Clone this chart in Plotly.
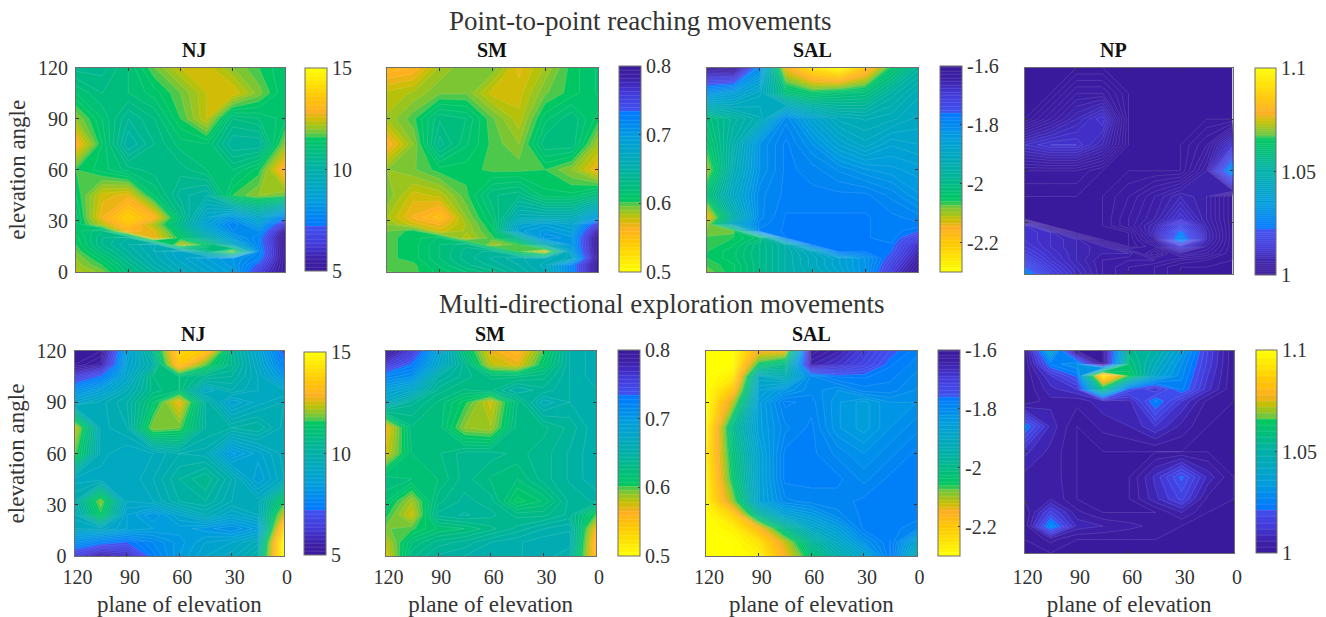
import plotly.graph_objects as go

plane = [120, 105, 90, 75, 60, 45, 30, 15, 0]
elev_top = [120, 105, 90, 75, 60, 45, 32, 28, 24, 20, 16, 12, 8, 4, 0]
elev_bot = [120, 112, 105, 97, 90, 75, 60, 45, 32, 24, 16, 8, 0]
ticks = [0, 30, 60, 90, 120]

nj_top = [
 [10.5,10.5,11.0,11.8,12.4,12.5,12.0,11.6,11.2],
 [11.2,10.8,11.0,11.3,11.8,12.4,12.6,11.9,11.2],
 [12.0,11.2,10.4,10.8,11.6,12.4,10.8,11.0,11.3],
 [13.0,11.4,10.0,10.6,11.1,11.2,10.2,10.2,12.0],
 [11.6,11.3,10.9,10.7,10.7,11.0,11.0,11.5,13.2],
 [11.4,12.5,12.7,11.2,10.3,10.0,11.6,12.0,11.8],
 [11.1,12.8,13.8,13.0,10.8,9.0,8.2,9.2,7.6],
 [11.2,12.3,13.4,12.2,10.6,8.7,7.6,8.6,6.4],
 [11.3,10.8,13.0,12.6,11.0,9.3,7.8,8.0,5.4],
 [11.5,10.6,10.2,12.8,11.4,10.0,8.4,7.6,5.0],
 [11.6,10.6,10.0,9.5,12.4,11.4,9.4,7.6,5.0],
 [11.8,10.9,10.2,9.6,9.0,10.5,12.2,7.8,5.0],
 [12.0,11.3,10.4,9.7,9.1,8.6,8.2,7.6,5.0],
 [12.1,11.6,10.7,9.9,9.3,8.8,8.3,7.0,5.0],
 [12.3,11.9,10.9,10.2,9.5,9.0,8.5,6.5,5.0],
]
sm_top = [
 [.555,.56,.585,.595,.595,.57,.585,.605,.615],
 [.58,.585,.595,.595,.575,.575,.595,.605,.615],
 [.585,.60,.625,.62,.597,.58,.612,.625,.605],
 [.56,.59,.635,.615,.60,.59,.625,.625,.585],
 [.59,.595,.605,.605,.60,.60,.602,.59,.565],
 [.595,.575,.58,.60,.625,.63,.61,.61,.625],
 [.585,.565,.55,.59,.615,.66,.66,.66,.70],
 [.59,.575,.565,.585,.61,.68,.69,.68,.75],
 [.595,.605,.575,.585,.605,.69,.70,.69,.78],
 [.60,.605,.615,.58,.60,.64,.71,.70,.80],
 [.60,.605,.62,.63,.585,.60,.66,.70,.80],
 [.60,.605,.62,.635,.64,.60,.57,.69,.80],
 [.60,.605,.62,.635,.645,.655,.66,.67,.80],
 [.60,.60,.615,.63,.64,.65,.665,.72,.80],
 [.595,.60,.61,.62,.63,.645,.66,.72,.80],
]
sal_top = [
 [-1.62,-1.60,-1.80,-2.15,-2.25,-2.30,-2.20,-2.05,-1.97],
 [-1.82,-1.85,-1.90,-2.02,-2.05,-2.03,-2.02,-1.96,-1.92],
 [-2.02,-1.97,-1.93,-1.80,-1.87,-1.92,-1.93,-1.92,-1.90],
 [-2.05,-1.95,-1.82,-1.78,-1.82,-1.87,-1.90,-1.87,-1.88],
 [-2.10,-1.93,-1.82,-1.78,-1.79,-1.81,-1.83,-1.84,-1.85],
 [-2.03,-1.90,-1.80,-1.78,-1.78,-1.78,-1.78,-1.80,-1.83],
 [-2.15,-1.95,-1.80,-1.77,-1.77,-1.77,-1.77,-1.78,-1.79],
 [-2.10,-1.90,-1.79,-1.77,-1.77,-1.77,-1.77,-1.78,-1.78],
 [-2.08,-2.08,-1.78,-1.77,-1.77,-1.77,-1.77,-1.78,-1.76],
 [-2.07,-2.06,-2.03,-1.77,-1.77,-1.77,-1.77,-1.78,-1.72],
 [-2.07,-2.05,-2.00,-1.95,-1.77,-1.77,-1.77,-1.77,-1.68],
 [-2.06,-2.04,-2.00,-1.95,-1.90,-1.77,-1.77,-1.76,-1.66],
 [-2.06,-2.04,-2.00,-1.95,-1.91,-1.87,-1.82,-1.74,-1.64],
 [-2.07,-2.05,-2.00,-1.95,-1.91,-1.87,-1.82,-1.72,-1.62],
 [-2.08,-2.05,-2.00,-1.95,-1.92,-1.88,-1.82,-1.70,-1.60],
]
np_top = [
 [1,1,1,1,1,1,1,1,1],
 [1,1,1.004,1.004,1,1,1,1,1],
 [1,1.004,1.008,1.012,1,1,1,1,1],
 [1.01,1.012,1.012,1.008,1,1,1,1.003,1.012],
 [1.002,1.002,1.002,1,1,1,1,1.006,1.03],
 [1,1,1,1,1.002,1.005,1.008,1.006,1],
 [1,1,1,1,1.003,1.006,1.012,1.006,1],
 [1.012,1,1,1,1.003,1.008,1.018,1.007,1],
 [1.012,1.01,1,1,1,1.009,1.024,1.008,1],
 [1.012,1.01,1.008,1,1,1.006,1.028,1.008,1],
 [1.013,1.01,1.008,1.006,1,1.003,1.014,1.006,1],
 [1.015,1.011,1.008,1.006,1.006,1,1.006,1.004,1],
 [1.018,1.012,1.008,1.005,1.004,1.004,1.002,1.001,1],
 [1.022,1.014,1.009,1.005,1.003,1.002,1,1,1],
 [1.026,1.016,1.01,1.005,1.003,1.002,1,1,1],
]
nj_bot = [
 [5,5,8.5,10.5,14.0,13.5,10.5,9,7],
 [5,5.5,8.8,10.0,13.5,11.8,10.6,9.2,7.5],
 [6.5,7.3,9,10.8,11.0,10.4,10.2,9.4,8.2],
 [8,8.6,9.6,10.7,11,9.2,9.8,9.4,9.2],
 [9,9.5,10,11.2,12.8,10.2,8.8,9.3,9.6],
 [12.5,9.5,9.8,12.0,11.8,10.2,10,10.2,9.5],
 [11.8,9.5,9.2,9.4,9.8,9.7,8.3,8.9,9.5],
 [9.3,9.3,9.2,9.6,10.2,10.6,9.8,8.6,9.4],
 [9.8,12,9.2,9.4,10,10.2,9.6,9.5,11.5],
 [9.5,11.5,8.8,8.2,9,9.6,9,9.4,12.5],
 [9.2,9.3,8.8,8.6,8.5,8.3,8,8.5,14],
 [8,7.5,7.2,7.8,8.3,8.8,9,9.5,15],
 [6.5,5.5,6,7.5,8.4,9,9.3,10,15],
]
sm_bot = [
 [.80,.76,.69,.62,.57,.555,.60,.65,.66],
 [.76,.73,.68,.635,.58,.57,.61,.65,.66],
 [.72,.71,.65,.635,.625,.625,.63,.65,.66],
 [.69,.675,.635,.625,.63,.65,.64,.65,.655],
 [.67,.64,.625,.605,.575,.625,.66,.65,.655],
 [.565,.625,.625,.59,.585,.63,.63,.64,.655],
 [.575,.62,.625,.635,.635,.63,.635,.645,.655],
 [.625,.62,.62,.635,.625,.62,.635,.645,.655],
 [.615,.585,.63,.64,.635,.605,.615,.64,.645],
 [.605,.575,.64,.645,.64,.63,.63,.64,.60],
 [.595,.60,.615,.62,.63,.64,.65,.655,.565],
 [.58,.62,.635,.64,.65,.655,.66,.66,.55],
 [.57,.63,.645,.65,.655,.655,.66,.65,.55],
]
sal_bot = [
 [-2.30,-2.30,-2.15,-2.15,-1.62,-1.65,-1.70,-1.75,-1.78],
 [-2.30,-2.30,-2.05,-2.00,-1.65,-1.68,-1.72,-1.77,-1.79],
 [-2.30,-2.27,-1.90,-1.93,-1.80,-1.77,-1.77,-1.78,-1.80],
 [-2.30,-2.20,-1.87,-1.83,-1.80,-1.82,-1.79,-1.79,-1.81],
 [-2.30,-2.12,-1.85,-1.78,-1.79,-1.83,-1.85,-1.82,-1.82],
 [-2.28,-2.00,-1.85,-1.80,-1.78,-1.83,-1.85,-1.82,-1.80],
 [-2.26,-2.03,-1.87,-1.78,-1.78,-1.80,-1.82,-1.80,-1.78],
 [-2.27,-2.05,-1.87,-1.78,-1.78,-1.78,-1.80,-1.78,-1.78],
 [-2.28,-2.10,-1.87,-1.80,-1.79,-1.79,-1.78,-1.78,-1.78],
 [-2.30,-2.22,-1.98,-1.87,-1.84,-1.80,-1.78,-1.78,-1.78],
 [-2.30,-2.28,-2.17,-2.00,-1.90,-1.85,-1.78,-1.78,-1.79],
 [-2.30,-2.30,-2.25,-2.12,-1.98,-1.90,-1.82,-1.77,-1.88],
 [-2.30,-2.30,-2.28,-2.15,-2.03,-1.95,-1.88,-1.77,-1.93],
]
np_bot = [
 [1,1.04,1,1,1.055,1.05,1.035,1.015,1],
 [1,1.025,1.03,1,1.06,1.045,1.03,1.014,1],
 [1,1.012,1.022,1.095,1.065,1.04,1.028,1.012,1],
 [1,1.008,1.012,1.06,1.02,1.012,1.025,1.01,1],
 [1,1.005,1.004,1.008,1.008,1.025,1.012,1.002,1],
 [1.025,1.008,1,1.004,1.006,1.012,1.005,1,1],
 [1.01,1.005,1,1,1,1,1,1,1],
 [1.005,1.005,1,1,1,1.01,1.022,1.008,1],
 [1.003,1.006,1,1,1,1.008,1.016,1.002,1],
 [1,1.016,1.004,1,1,1,1.006,1,1],
 [1,1.028,1.008,1.006,1.004,1.002,1,1,1],
 [1,1.004,1,1,1,1,1,1,1],
 [1,1,1,1,1,1,1,1,1],
]

W, H = 1326, 617
SERIF = "Liberation Serif"
INK = "#333333"
cmap = [
 [0.00, "#3a1a9c"], [0.06, "#3d20a8"], [0.13, "#4338d8"], [0.215, "#3f50f0"],
 [0.225, "#0078ff"], [0.35, "#009edc"], [0.50, "#00b0a8"], [0.60, "#00bf78"],
 [0.655, "#00c860"], [0.675, "#68c842"], [0.74, "#c4c000"], [0.785, "#ffae20"],
 [0.86, "#ffc800"], [0.93, "#ffe400"], [1.00, "#ffff00"],
]

panels = [
 ("NJ", elev_top, nj_top, 5, 15, .2, False, [5,10,15], ["5","10","15"], (76,285,67.5,272), (305,327,68,271), 180, 50),
 ("SM", elev_top, sm_top, .5, .8, .006, True, [.5,.6,.7,.8], ["0.5","0.6","0.7","0.8"], (387,598,67.5,272), (619,641,66,272), 492, 50),
 ("SAL", elev_top, sal_top, -2.3, -1.6, .012, True, [-2.2,-2,-1.8,-1.6], ["-2.2","-2","-1.8","-1.6"], (707,918,67.5,272), (940,961.5,66,272), 812, 50),
 ("NP", elev_top, np_top, 1, 1.1, .001, False, [1,1.05,1.1], ["1","1.05","1.1"], (1024.5,1232.5,67.5,274), (1255,1276,68,275), 1128.5, 50),
 ("NJ", elev_bot, nj_bot, 5, 15, .2, False, [5,10,15], ["5","10","15"], (74.6,284,351,556), (303.5,325,352,555), 179, 334),
 ("SM", elev_bot, sm_bot, .5, .8, .006, True, [.5,.6,.7,.8], ["0.5","0.6","0.7","0.8"], (385.5,596,351,556), (618,640,350,556), 490, 334),
 ("SAL", elev_bot, sal_bot, -2.3, -1.6, .012, True, [-2.2,-2,-1.8,-1.6], ["-2.2","-2","-1.8","-1.6"], (706,916.6,351,556), (938,960,350,556), 811, 334),
 ("", elev_bot, np_bot, 1, 1.1, .003, False, [1,1.05,1.1], ["1","1.05","1.1"], (1024.5,1234,350.5,553), (1256,1277,350,553), 0, 0),
]

fig = go.Figure()
layout = dict(
    width=W, height=H, margin=dict(l=0, r=0, t=0, b=0, pad=0, autoexpand=False),
    paper_bgcolor="white", plot_bgcolor="white", showlegend=False,
    font=dict(family=SERIF, size=20, color=INK),
)
annotations = []
for i, (name, elev, z, zmin, zmax, step, rev, cbv, cbt, box, cb, tx, ty) in enumerate(panels):
    n = "" if i == 0 else str(i + 1)
    x0, x1, y0, y1 = box
    cx0, cx1, cy0, cy1 = cb
    fig.add_trace(go.Contour(
        x=plane, y=elev, z=z, xaxis="x" + n, yaxis="y" + n,
        zmin=zmin, zmax=zmax, zauto=False, colorscale=cmap, reversescale=rev,
        autocontour=False,
        contours=dict(start=zmin, end=zmax, size=step, coloring="fill"),
        line=dict(color="rgba(255,255,255,0.25)", width=0.5, smoothing=0),
        colorbar=dict(
            x=cx0 / W, xanchor="left", xpad=0, ypad=0,
            y=1 - cy1 / H, yanchor="bottom", len=(cy1 - cy0) / H, lenmode="fraction",
            thickness=cx1 - cx0, thicknessmode="pixels",
            outlinecolor="#6e6e6e", outlinewidth=1,
            tickvals=cbv, ticktext=cbt, ticks="inside", ticklen=2, tickcolor=INK,
            tickfont=dict(family=SERIF, size=20, color=INK),
        ),
        hoverinfo="skip",
    ))
    bottom = i >= 4
    left = i in (0, 4)
    layout["xaxis" + n] = dict(
        domain=[x0 / W, x1 / W], anchor="y" + n, range=[120, 0], tickvals=ticks,
        ticks="inside", ticklen=3, tickcolor=INK, tickwidth=1, mirror="allticks",
        showline=True, linecolor="#6e6e6e", linewidth=1, showgrid=False, zeroline=False,
        showticklabels=bottom, tickfont=dict(family=SERIF, size=20, color=INK),
        ticklabelshift=-3, ticklabelstandoff=6 if i == 7 else 3,
        title=dict(text="plane of elevation" if bottom else "", standoff=10,
                   font=dict(family=SERIF, size=23, color=INK)),
    )
    layout["yaxis" + n] = dict(
        domain=[1 - y1 / H, 1 - y0 / H], anchor="x" + n, range=[0, 120], tickvals=ticks,
        ticks="inside", ticklen=3, tickcolor=INK, tickwidth=1, mirror="allticks",
        showline=True, linecolor="#6e6e6e", linewidth=1, showgrid=False, zeroline=False,
        showticklabels=left, tickfont=dict(family=SERIF, size=20, color=INK),
        ticklabelstandoff=3,
        title=dict(text="elevation angle" if left else "", standoff=5,
                   font=dict(family=SERIF, size=23, color=INK)),
    )
    if name:
        annotations.append(dict(text="<b>" + name + "</b>", x=tx / W, y=1 - ty / H,
                                xref="paper", yref="paper", yanchor="middle", showarrow=False,
                                font=dict(family=SERIF, size=20, color="#111111")))

annotations.append(dict(text="Point-to-point reaching movements", x=640 / W, y=1 - 21 / H,
                        xref="paper", yref="paper", yanchor="middle", showarrow=False,
                        font=dict(family=SERIF, size=27, color=INK)))
annotations.append(dict(text="Multi-directional exploration movements", x=661 / W, y=1 - 304 / H,
                        xref="paper", yref="paper", yanchor="middle", showarrow=False,
                        font=dict(family=SERIF, size=27, color=INK)))
layout["annotations"] = annotations
fig.update_layout(**layout)
fig.write_html("out.html", config={"displayModeBar": False},
               post_script="document.body.style.margin='0';document.body.style.overflow='hidden';")
